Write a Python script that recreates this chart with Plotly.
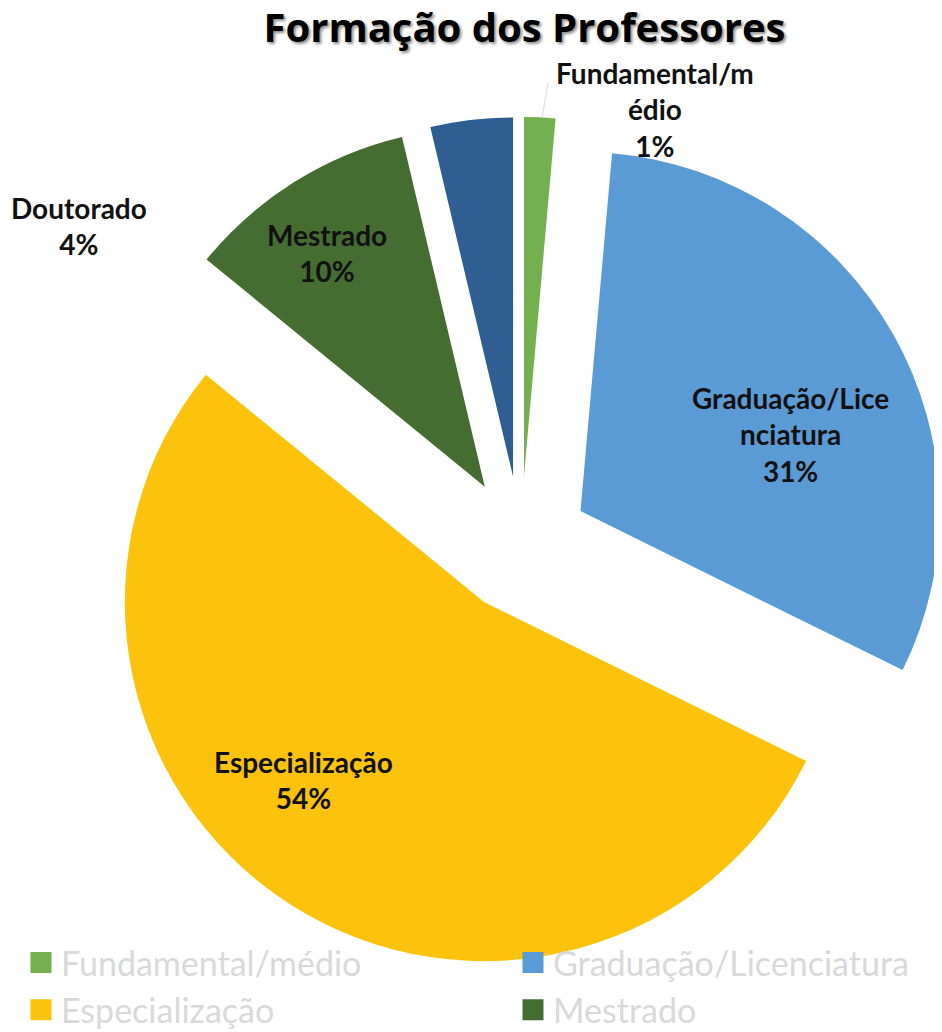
import plotly.graph_objects as go

# ---- data ----
categories = ["Fundamental/médio", "Graduação/Licenciatura", "Especialização", "Mestrado", "Doutorado"]
# slice shares (%); labels show them rounded
shares = [1.4, 30.9, 53.6, 10.4, 3.7]
label_lines = ["Fundamental/m<br>édio", "Graduação/Lice<br>nciatura", "Especialização", "Mestrado", "Doutorado"]

# ---- style ----
colors = ["#74b04f", "#5b9bd5", "#fcc20c", "#466d31", "#2f5e93"]
W, H = 942, 1032
OFF = 8  # page offset of the plot inside the browser window
label_pos_px = [(655, 110), (790, 434), (303, 780), (327, 253), (79, 226)]

total = sum(shares)
pct_labels = [round(100 * v / total) for v in shares]

cx, cy, R = 521 - OFF, 544.5 - OFF, 427.5  # pie centre and outer reach (px)

fig = go.Figure()
fig.add_trace(
    go.Pie(
        labels=categories,
        values=shares,
        sort=False,
        direction="clockwise",
        rotation=0,
        pull=[0.19] * len(categories),
        marker=dict(colors=colors, line=dict(width=0)),
        textinfo="none",
        hoverinfo="label+percent",
        showlegend=False,
        domain=dict(x=[(cx - R) / W, min(1.0, (cx + R) / W)],
                    y=[1 - (cy + R) / H, 1 - (cy - R) / H]),
    )
)

# legend entries (two columns, like the reference)
for i, (cat, col) in enumerate(zip(categories, colors)):
    fig.add_trace(
        go.Scatter(
            x=[None], y=[None], mode="markers", name=cat,
            legend="legend" if i % 2 == 0 else "legend2",
            marker=dict(symbol="square", size=16, color=col, line=dict(width=5, color=col)),
            hoverinfo="skip", showlegend=True,
        )
    )

annotations = []
for name, p, (px, py) in zip(label_lines, pct_labels, label_pos_px):
    annotations.append(
        dict(
            text=f"{name}<br>{p}%",
            x=(px - OFF) / W, y=1 - (py - OFF) / H, xref="paper", yref="paper",
            xanchor="center", yanchor="middle", align="center",
            showarrow=False,
            font=dict(family="Lato", size=28, color="#111111", weight="bold"),
        )
    )

legend_common = dict(
    orientation="v", yanchor="top", xanchor="left",
    font=dict(family="Lato", size=34, color="#d9d9d9"),
    bgcolor="rgba(0,0,0,0)", borderwidth=0,
)

fig.update_layout(
    width=W, height=H,
    margin=dict(l=0, r=0, t=0, b=0, autoexpand=False),
    paper_bgcolor="white", plot_bgcolor="white",
    xaxis=dict(visible=False), yaxis=dict(visible=False),
    title=dict(
        text="Formação dos Professores",
        x=(524.5 - OFF) / W, xanchor="center", y=1 - (28 - OFF) / H, yanchor="middle",
        font=dict(family="Open Sans", size=40, color="#000000", weight="bold",
                  shadow="2px 2px 3px rgba(0,0,0,0.45)"),
    ),
    legend=dict(x=13 / W, y=1 - 926 / H, **legend_common),
    legend2=dict(x=505 / W, y=1 - 926 / H, **legend_common),
    annotations=annotations,
    shapes=[dict(type="line", xref="paper", yref="paper",
                 x0=(542 - OFF) / W, y0=1 - (118 - OFF) / H,
                 x1=(548 - OFF) / W, y1=1 - (83 - OFF) / H,
                 line=dict(color="#d9d9d9", width=1))],
)

fig.write_html("out.html")
